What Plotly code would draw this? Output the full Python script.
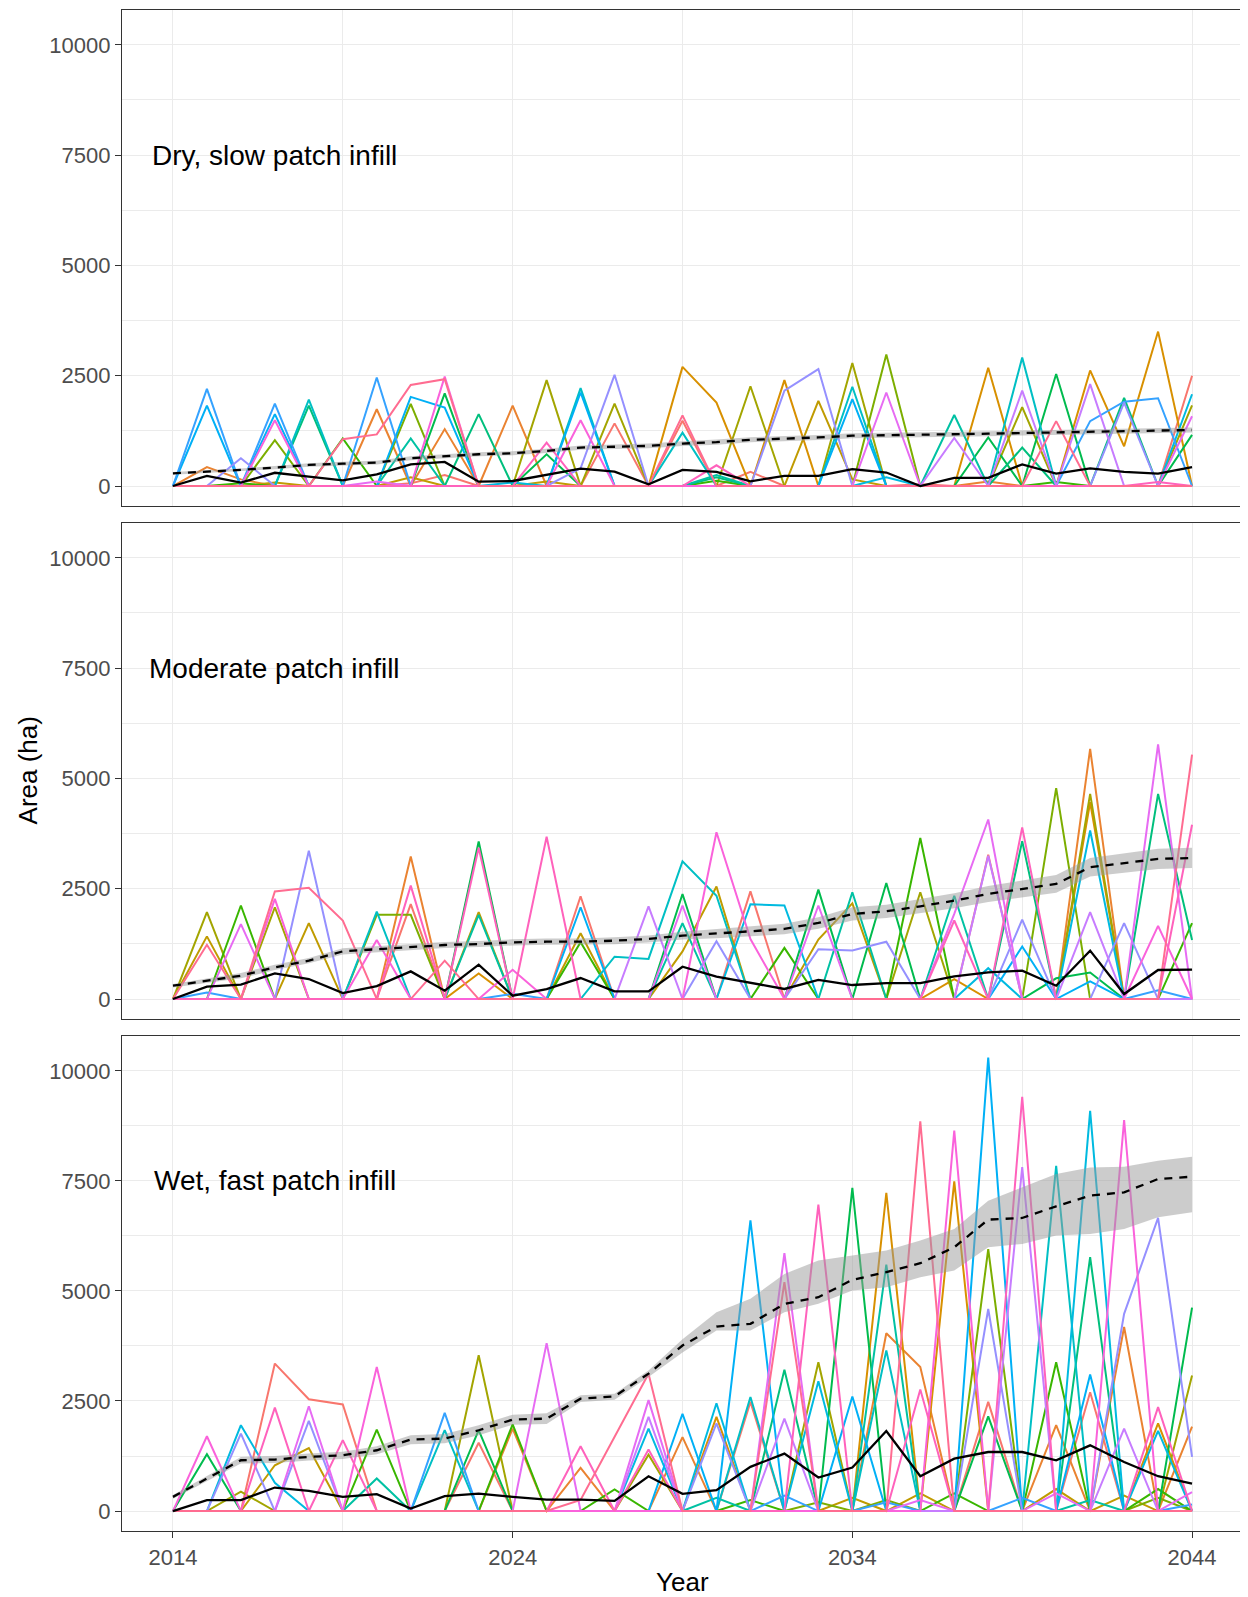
import plotly.graph_objects as go
from plotly.subplots import make_subplots

years = list(range(2014, 2045))
panel_labels = ["Dry, slow patch infill", "Moderate patch infill", "Wet, fast patch infill"]
y_tickvals = [0, 2500, 5000, 7500, 10000]
y_ticktext = ["0", "2500", "5000", "7500", "10000"]
x_tickvals = [2014, 2024, 2034, 2044]
x_ticktext = ["2014", "2024", "2034", "2044"]

palette = ["#F8766D", "#EA8331", "#D89000", "#C09B00", "#A3A500", "#7CAE00", "#39B600",
           "#00BB4E", "#00BF7D", "#00C1A3", "#00BFC4", "#00BAE0", "#00B0F6", "#35A2FF",
           "#9590FF", "#C77CFF", "#E76BF3", "#FA62DB", "#FF62BC", "#FF6C91"]

# ---- Panel 1: Dry, slow patch infill ----
d0 = [0,0,0,0,0,0,0,60,250,0,0,0,0,1420,0,1480,0,320,0,0,0,0,40,0,0,0,0,0,0,0,2500]
d1 = [0,430,150,0,0,0,1740,0,1290,0,1820,0,0,0,0,0,0,0,0,0,0,0,0,0,100,0,0,0,0,0,0]
d2 = [0,0,0,0,0,0,0,0,0,0,0,0,0,0,0,2700,1890,0,2400,0,0,0,0,0,2680,0,0,2620,900,3500,0]
d3 = [0,0,0,80,0,0,0,200,0,0,0,100,0,0,0,0,0,0,0,1930,150,0,0,0,0,0,0,0,0,0,0]
d4 = [0,0,0,0,0,0,0,0,0,0,0,2400,0,1870,0,0,0,2260,0,0,2790,0,0,0,0,1790,0,0,0,0,1830]
d5 = [0,0,0,1040,0,0,0,1860,0,0,0,0,0,0,0,0,0,0,0,0,0,2980,0,0,0,0,0,0,0,0,0]
d6 = [0,0,60,0,0,1080,0,0,0,0,0,0,0,0,0,0,120,0,0,0,0,0,0,0,0,0,90,0,0,0,0]
d7 = [0,0,0,0,0,0,0,0,2100,0,0,720,0,0,0,0,0,0,0,0,0,0,0,0,1100,0,2540,0,0,0,1160]
d8 = [0,0,0,0,1820,0,0,0,0,1630,0,0,0,0,0,0,200,0,0,0,0,0,0,0,0,870,0,0,2000,0,0]
d9 = [0,0,0,0,0,0,0,1080,0,0,0,0,0,0,0,0,250,0,0,0,0,0,0,1610,0,0,0,0,0,0,0]
d10 = [0,0,0,0,1960,0,0,0,0,0,0,0,2220,0,0,1210,0,0,0,0,2250,0,0,0,0,2910,0,0,0,0,0]
d11 = [0,0,0,0,0,0,0,0,0,0,80,0,0,0,0,0,0,0,0,0,0,200,0,0,0,0,0,0,0,0,2080]
d12 = [0,1820,0,1630,0,0,0,2020,1780,0,0,0,2120,0,0,0,0,0,0,0,1970,0,0,0,0,0,0,0,0,0,0]
d13 = [0,2200,0,1870,0,0,2460,0,0,0,0,0,0,0,0,0,0,0,0,0,0,0,0,0,0,0,0,1470,1910,1990,0]
d14 = [0,0,630,0,0,0,0,0,0,0,0,0,400,2520,0,0,0,0,2160,2650,0,0,0,0,0,0,0,0,1890,0,0]
d15 = [0,0,0,0,0,0,0,0,0,0,0,0,0,0,0,0,0,0,0,0,0,0,0,1090,0,2160,0,2310,0,0,0]
d16 = [0,0,0,0,0,0,100,0,0,0,0,0,0,0,0,0,0,0,0,0,0,2120,0,0,0,0,0,0,0,0,1580]
d17 = [0,0,0,1490,0,0,0,0,2480,0,0,0,1490,0,0,0,0,0,0,0,0,0,0,0,0,0,0,0,0,0,0]
d18 = [0,0,0,0,0,0,0,0,0,0,0,985,0,0,0,0,470,0,0,0,0,0,0,0,0,0,0,0,0,90,0]
d19 = [0,0,0,0,0,1060,1170,2290,2420,0,0,0,0,0,0,1600,0,0,0,0,0,0,0,0,0,0,1470,0,0,0,0]
dry_series = [d0, d1, d2, d3, d4, d5, d6, d7, d8, d9, d10, d11, d12, d13, d14, d15, d16, d17, d18, d19]
dry_mean = [0,230,76,300,212,129,265,492,545,98,114,250,394,326,38,364,320,107,230,230,382,306,0,184,184,490,283,398,321,283,428]
dry_trend = [288,325,364,417,477,507,530,629,682,720,742,795,871,886,909,962,995,1048,1071,1101,1140,1148,1163,1178,1186,1201,1216,1239,1239,1255,1270]
dry_lower = [258,295,330,380,437,465,487,585,638,675,697,748,822,836,857,907,938,990,1013,1043,1082,1090,1105,1120,1130,1146,1161,1184,1184,1200,1215]
dry_upper = [318,355,398,454,517,549,573,673,726,765,787,842,920,936,961,1017,1052,1106,1129,1159,1198,1206,1221,1236,1242,1256,1271,1294,1294,1310,1325]

# ---- Panel 2: Moderate patch infill ----
m0 = [0,0,0,0,0,0,0,2150,0,0,0,0,2330,0,0,0,0,2440,0,0,0,0,0,0,3270,0,0,0,0,0,0]
m1 = [0,0,0,0,0,0,0,3230,0,0,0,0,0,0,0,0,0,0,0,0,0,0,0,0,0,0,0,5670,0,0,0]
m2 = [0,0,0,0,0,0,0,0,0,580,0,0,0,0,0,0,0,0,0,0,0,0,0,450,0,0,0,4460,0,0,0]
m3 = [0,1420,0,0,1720,0,0,0,0,1970,0,0,1490,0,0,1080,2550,0,0,1350,2170,0,0,0,0,0,0,0,0,0,0]
m4 = [0,1970,0,2080,0,0,0,0,0,0,0,0,0,0,0,0,0,0,0,0,0,0,2420,0,0,0,0,4650,0,0,0]
m5 = [0,0,0,0,0,0,1910,1910,0,0,0,0,0,0,0,0,0,0,0,0,0,0,0,0,0,0,4780,0,0,0,0]
m6 = [0,0,2120,0,0,0,0,0,0,0,0,0,1290,0,0,0,0,0,1160,0,0,0,3650,0,0,0,0,0,0,0,1720]
m7 = [0,0,0,0,0,0,0,0,0,3570,0,0,0,0,0,2380,0,0,0,2480,0,2630,0,0,0,0,470,600,0,0,0]
m8 = [0,0,0,0,0,0,0,0,0,0,0,0,0,0,0,0,0,0,0,0,0,0,0,0,0,3580,0,0,0,4650,1340]
m9 = [0,0,0,0,0,0,0,0,0,1910,0,0,0,0,0,1720,0,0,0,0,2420,0,0,2340,0,0,0,0,0,0,0]
m10 = [0,0,0,0,0,0,1980,0,0,0,0,0,0,960,910,3120,2340,0,0,0,0,0,0,0,0,0,0,0,0,0,0]
m11 = [0,0,0,0,0,0,0,0,0,0,0,0,0,0,0,0,0,2150,2120,0,0,0,0,0,700,0,0,3820,0,0,0]
m12 = [0,0,0,0,0,0,0,0,0,0,0,0,2080,0,0,0,0,0,0,0,0,0,0,0,0,1190,0,400,0,0,0]
m13 = [0,150,0,0,0,0,0,0,0,0,120,0,0,0,0,0,0,0,0,0,0,0,0,0,0,0,0,0,0,200,0]
m14 = [0,0,0,0,3360,0,0,0,0,0,0,0,0,0,0,0,1310,0,0,1130,1100,1300,0,0,0,1800,0,0,1720,0,0]
m15 = [0,0,0,0,0,0,0,0,0,0,0,0,0,0,2100,0,0,0,0,0,0,0,0,0,3250,0,0,1970,0,0,0]
m16 = [0,0,1700,0,0,0,0,0,0,0,0,0,0,0,0,2120,0,0,0,2120,0,0,0,1930,4070,0,0,0,0,5770,0]
m17 = [0,0,0,2270,0,0,1340,0,0,0,665,0,0,0,0,0,3780,1360,0,0,0,0,0,0,0,0,0,0,0,1660,0]
m18 = [0,0,0,0,0,0,0,2570,0,3430,0,3680,0,0,0,0,0,0,0,0,0,0,0,1780,0,3890,0,0,0,0,3950]
m19 = [0,1230,0,2440,2520,1780,0,0,870,0,0,0,0,0,0,0,0,0,0,0,0,0,0,0,0,0,0,0,0,0,5540]
mod_series = [m0, m1, m2, m3, m4, m5, m6, m7, m8, m9, m10, m11, m12, m13, m14, m15, m16, m17, m18, m19]
mod_mean = [0,280,325,582,454,136,295,627,189,779,76,227,476,174,174,733,507,363,228,432,318,363,363,514,605,643,302,1097,113,658,665]
mod_trend = [302,420,529,718,869,1081,1134,1172,1225,1247,1285,1300,1300,1323,1361,1437,1480,1536,1589,1724,1928,1989,2102,2230,2382,2495,2609,2987,3077,3176,3198]
mod_lower = [262,370,469,658,809,1011,1064,1102,1155,1177,1215,1230,1230,1243,1281,1347,1380,1426,1469,1594,1778,1839,1942,2060,2202,2305,2409,2777,2857,2946,2968]
mod_upper = [342,470,589,778,929,1151,1204,1242,1295,1317,1355,1370,1370,1403,1441,1527,1590,1646,1709,1854,2078,2139,2262,2400,2562,2685,2809,3197,3297,3406,3428]

# ---- Panel 3: Wet, fast patch infill ----
w0 = [0,0,0,3350,2540,2420,0,0,0,1550,0,0,0,0,0,0,0,2480,0,0,0,0,0,0,2480,0,0,2700,0,0,0]
w1 = [0,0,0,0,0,0,0,0,0,0,1870,0,980,0,0,1680,0,0,0,0,0,4040,3270,0,0,0,1950,0,4180,0,1920]
w2 = [0,0,0,0,0,0,0,0,0,0,0,0,0,0,0,0,2140,0,0,0,0,7230,0,7490,0,0,0,0,0,1990,0]
w3 = [0,0,0,1040,1430,0,0,0,0,0,0,0,0,0,0,0,0,0,0,0,300,0,400,0,0,0,500,0,350,0,0]
w4 = [0,0,440,0,0,0,0,0,0,3540,0,0,0,0,1280,0,0,0,0,3380,0,0,0,0,0,0,0,0,0,0,3080]
w5 = [0,0,0,0,0,0,0,0,0,0,0,0,0,0,0,0,0,0,0,200,0,250,0,0,5950,0,0,0,0,300,0]
w6 = [0,0,0,0,0,0,1850,0,0,0,1970,0,0,490,0,0,0,250,0,0,0,0,0,400,0,0,3380,0,0,500,0]
w7 = [0,1290,0,0,0,0,0,0,0,1840,0,0,0,0,0,0,0,0,0,0,7340,0,0,0,2150,0,0,0,0,0,4620]
w8 = [0,0,0,0,0,0,0,0,0,0,0,0,0,0,0,0,0,0,3210,0,0,0,0,0,0,0,0,5770,0,0,0]
w9 = [0,0,0,0,0,0,740,0,0,0,0,0,0,0,0,0,300,0,0,0,0,5600,0,0,0,0,0,250,0,0,0]
w10 = [0,0,0,0,0,0,0,0,1840,0,0,0,0,0,0,0,0,2590,0,0,0,3650,0,0,0,0,7840,0,0,0,0]
w11 = [0,0,1950,640,0,0,0,0,0,0,0,0,0,0,1870,0,2450,0,0,2950,0,0,0,0,0,0,0,9090,0,1820,0]
w12 = [0,0,0,0,0,0,0,0,0,0,0,0,0,0,0,2210,0,6600,0,0,2600,0,0,0,10300,0,0,3100,0,0,0]
w13 = [0,0,0,0,0,0,0,0,2230,0,0,0,0,0,0,0,0,0,350,0,0,200,0,0,0,300,0,0,0,0,150]
w14 = [0,0,1760,0,2050,0,0,0,0,0,0,0,0,0,0,0,1990,0,0,0,0,0,0,0,4590,0,0,0,4480,6660,1230]
w15 = [0,0,0,0,0,0,0,0,0,0,0,0,0,0,2140,0,0,0,2100,0,0,0,0,0,0,7810,0,0,1870,0,0]
w16 = [0,0,0,0,2380,0,0,0,0,0,0,3815,0,0,2520,0,0,0,5860,0,0,0,250,0,0,0,400,0,0,0,430]
w17 = [0,1700,0,0,0,0,3270,0,0,0,0,0,0,0,0,0,0,0,0,0,0,0,0,8640,0,0,0,0,8880,0,0]
w18 = [0,0,0,2350,0,1610,0,0,0,0,0,0,1470,0,1400,0,0,0,0,6960,0,0,2760,0,0,9410,0,0,0,2360,0]
w19 = [0,0,0,0,0,0,0,0,0,0,0,0,250,1680,3120,0,0,0,5200,0,0,0,8850,0,0,0,0,0,0,0,0]
wet_series = [w0, w1, w2, w3, w4, w5, w6, w7, w8, w9, w10, w11, w12, w13, w14, w15, w16, w17, w18, w19]
wet_mean = [0,247,247,534,458,322,383,58,337,398,322,262,262,232,791,390,474,1003,1305,761,988,1818,791,1190,1341,1341,1153,1493,1115,791,624]
wet_trend = [322,739,1154,1170,1230,1268,1381,1623,1646,1835,2077,2100,2553,2606,3120,3760,4192,4252,4706,4857,5252,5425,5630,5992,6620,6657,6922,7164,7240,7542,7595]
wet_lower = [280,680,1080,1090,1150,1185,1290,1520,1540,1720,1960,1980,2477,2530,3044,3600,4101,4101,4518,4707,5009,5085,5311,5462,5992,6068,6257,6295,6408,6673,6786]
wet_upper = [364,800,1230,1250,1310,1350,1470,1720,1750,1950,2190,2220,2630,2666,3195,3900,4518,4820,5387,5690,5803,5917,6144,6408,7050,7352,7655,7806,7821,7957,8048]

panels = [
    (dry_series, dry_mean, dry_trend, dry_lower, dry_upper),
    (mod_series, mod_mean, mod_trend, mod_lower, mod_upper),
    (wet_series, wet_mean, wet_trend, wet_lower, wet_upper),
]

fig = make_subplots(rows=3, cols=1, shared_xaxes=True, vertical_spacing=0.01)

for r, (series, mean, trend, lower, upper) in enumerate(panels, start=1):
    for k, s in enumerate(series):
        fig.add_trace(go.Scatter(x=years, y=s, mode="lines",
                                 line=dict(color=palette[k], width=2.0),
                                 showlegend=False, hoverinfo="skip"), row=r, col=1)
    fig.add_trace(go.Scatter(x=years, y=lower, mode="lines", line=dict(width=0, color="rgba(0,0,0,0)"),
                             showlegend=False, hoverinfo="skip"), row=r, col=1)
    fig.add_trace(go.Scatter(x=years, y=upper, mode="lines", line=dict(width=0, color="rgba(0,0,0,0)"),
                             fill="tonexty", fillcolor="rgba(153,153,153,0.5)",
                             showlegend=False, hoverinfo="skip"), row=r, col=1)
    fig.add_trace(go.Scatter(x=years, y=trend, mode="lines",
                             line=dict(color="black", width=2.3, dash="8px,7px"),
                             showlegend=False, hoverinfo="skip"), row=r, col=1)
    fig.add_trace(go.Scatter(x=years, y=mean, mode="lines",
                             line=dict(color="black", width=2.3),
                             showlegend=False, hoverinfo="skip"), row=r, col=1)
    fig.add_annotation(x=2017.0, y=7500, text=panel_labels[r - 1], showarrow=False,
                       xanchor="center", yanchor="middle",
                       font=dict(size=28, color="black", family="Liberation Sans, Arial"),
                       row=r, col=1)

domains = [[0.6739, 1.0], [0.3366, 0.6627], [0.0, 0.3254]]
grid_major = "#EBEBEB"
for r in range(1, 4):
    fig.update_yaxes(row=r, col=1, domain=domains[r - 1], range=[-453, 10789], automargin=False,
                     tickmode="array", tickvals=y_tickvals, ticktext=y_ticktext,
                     ticks="outside", ticklen=6, tickwidth=1.2, tickcolor="#333333",
                     tickfont=dict(size=22, color="#4D4D4D"),
                     showgrid=True, gridcolor=grid_major, gridwidth=1.3,
                     minor=dict(tickmode="array", tickvals=[1250, 3750, 6250, 8750],
                                showgrid=True, gridcolor=grid_major, gridwidth=0.7, ticks=""),
                     showline=True, mirror=True, linecolor="#333333", linewidth=1.3,
                     zeroline=False)
    fig.update_xaxes(row=r, col=1, range=[2012.5, 2045.5], automargin=False,
                     tickmode="array", tickvals=x_tickvals, ticktext=x_ticktext,
                     ticks="outside" if r == 3 else "", ticklen=6, tickwidth=1.2, tickcolor="#333333",
                     showticklabels=(r == 3),
                     tickfont=dict(size=22, color="#4D4D4D"),
                     showgrid=True, gridcolor=grid_major, gridwidth=1.3,
                     minor=dict(tickmode="array", tickvals=[2019, 2029, 2039],
                                showgrid=True, gridcolor=grid_major, gridwidth=0.7, ticks=""),
                     showline=True, mirror=True, linecolor="#333333", linewidth=1.3,
                     zeroline=False)

fig.add_annotation(xref="paper", yref="paper", x=-0.0839, y=0.5, text="Area (ha)",
                   textangle=-90, showarrow=False, xanchor="center", yanchor="middle",
                   font=dict(size=26, color="black", family="Liberation Sans, Arial"))
fig.add_annotation(xref="paper", yref="paper", x=0.5, y=-0.0335, text="Year",
                   showarrow=False, xanchor="center", yanchor="middle",
                   font=dict(size=26, color="black", family="Liberation Sans, Arial"))

fig.update_layout(width=1240, height=1589,
                  margin=dict(l=114, r=5, t=2, b=66, autoexpand=False),
                  paper_bgcolor="white", plot_bgcolor="white",
                  font=dict(family="Liberation Sans, Arial", color="#4D4D4D"),
                  showlegend=False)

fig.write_html("out.html")
